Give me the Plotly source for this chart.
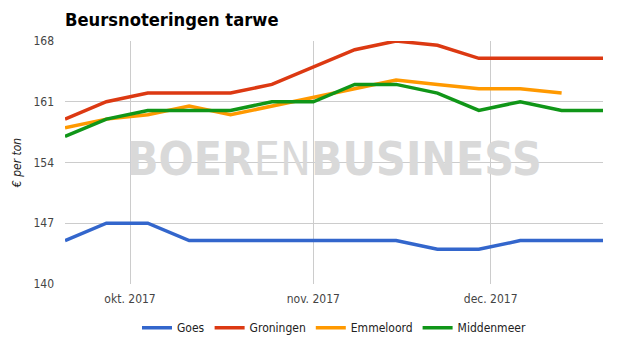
import plotly.graph_objects as go

dates = ["2017-09-20", "2017-09-27", "2017-10-04", "2017-10-11", "2017-10-18",
         "2017-10-25", "2017-11-01", "2017-11-08", "2017-11-15", "2017-11-22",
         "2017-11-29", "2017-12-06", "2017-12-13", "2017-12-20"]

goes = [145, 147, 147, 145, 145, 145, 145, 145, 145, 144, 144, 145, 145, 145]
groningen = [159, 161, 162, 162, 162, 163, 165, 167, 168, 167.5, 166, 166, 166, 166]
emmeloord = [158, 159, 159.5, 160.5, 159.5, 160.5, 161.5, 162.5, 163.5, 163, 162.5, 162.5, 162, None]
middenmeer = [157, 159, 160, 160, 160, 161, 161, 163, 163, 162, 160, 161, 160, 160]

series_names = ["Goes", "Groningen", "Emmeloord", "Middenmeer"]
series_values = [goes, groningen, emmeloord, middenmeer]
colors = ["#3366cc", "#dc3912", "#ff9900", "#109618"]

y_ticks = [140, 147, 154, 161, 168]
x_tickvals = ["2017-10-01", "2017-11-01", "2017-12-01"]
x_ticktext = ["okt. 2017", "nov. 2017", "dec. 2017"]

FONT = "DejaVu Sans Condensed, DejaVu Sans"

fig = go.Figure()
for name, vals, col in zip(series_names, series_values, colors):
    fig.add_trace(go.Scatter(x=dates, y=vals, name=name, mode="lines",
                             line=dict(color=col, width=3.5), connectgaps=False))

fig.add_annotation(
    text="<b>BOER</b>EN<b>BUSINESS</b>",
    xref="paper", yref="paper", x=0.5, y=0.515, xanchor="center", yanchor="middle",
    showarrow=False,
    font=dict(family="DejaVu Sans Condensed, DejaVu Sans", size=46, color="#d9d9d9"),
)

fig.update_layout(
    width=625, height=355,
    margin=dict(l=65, r=22, t=41, b=71),
    paper_bgcolor="white", plot_bgcolor="white",
    font=dict(family=FONT, size=12, color="#444"),
    title=dict(text="<b>Beursnoteringen tarwe</b>", x=65/625, xanchor="left",
               y=1 - 20/355, yanchor="middle",
               font=dict(family=FONT, size=18.2, color="#000")),
    showlegend=True,
    legend=dict(orientation="h", x=0.5, xanchor="center", xref="paper",
                y=-0.18, yanchor="middle", font=dict(size=12, color="#222")),
    hovermode=False,
)
fig.update_xaxes(range=["2017-09-20", "2017-12-20"], tickvals=x_tickvals, ticktext=x_ticktext,
                 showgrid=True, gridcolor="#cccccc", gridwidth=1, zeroline=False,
                 showline=False, ticks="", ticklabelstandoff=6,
                 tickfont=dict(size=12, color="#444"))
fig.update_yaxes(range=[140, 168], tickvals=y_ticks, showgrid=True, gridcolor="#cccccc",
                 gridwidth=1, zeroline=False, showline=False, ticks="",
                 ticklabelstandoff=10, tickfont=dict(size=12, color="#444"),
                 title=dict(text="<i>€ per ton</i>", standoff=9,
                            font=dict(size=12, color="#222")))

fig.write_html("out.html")
